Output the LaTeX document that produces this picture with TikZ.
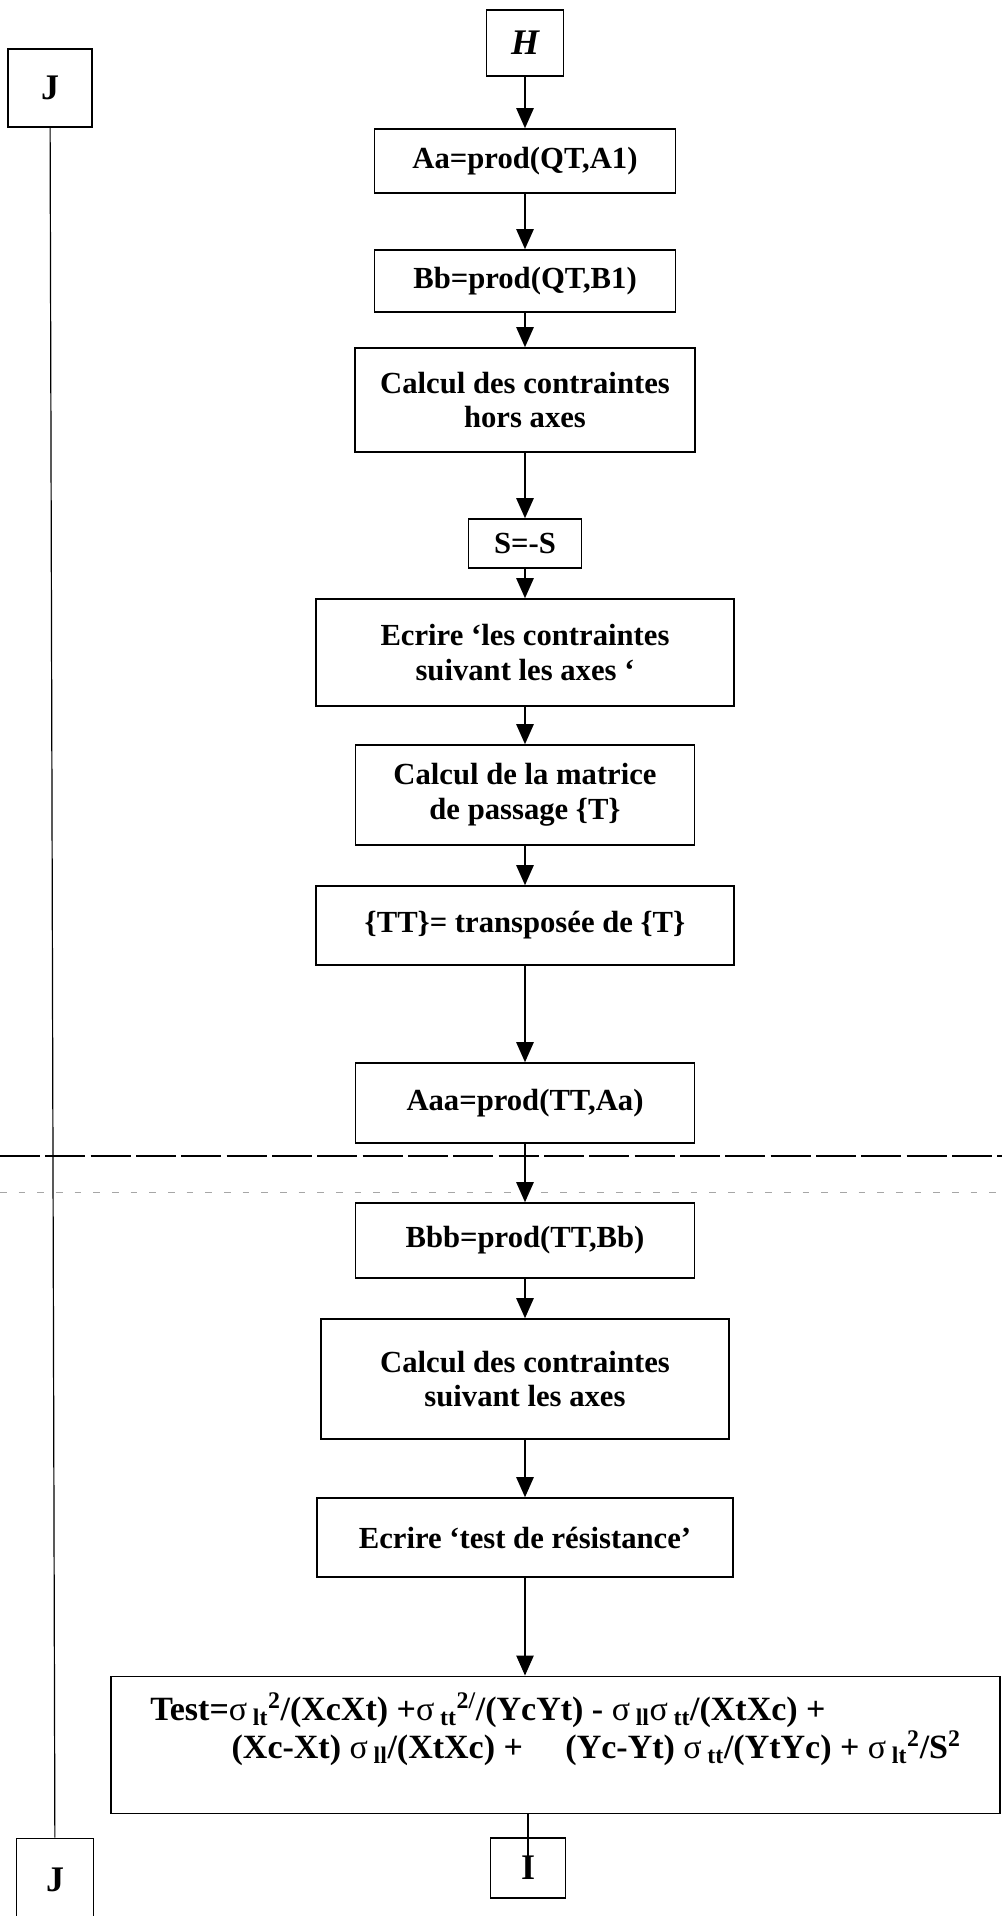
\documentclass[tikz,border=0pt]{standalone}
\usepackage{fontspec}
\setmainfont{Liberation Serif}
\usetikzlibrary{positioning,arrows.meta}
\tikzstyle{box}   = [rectangle, draw=black, line width=1.2pt, align=center, inner sep=2pt, font=\bfseries\fontsize{23}{26}\selectfont]
\tikzstyle{label} = [box, font=\bfseries\fontsize{27}{30}\selectfont]
\tikzstyle{arrow} = [line width=1.1pt, -{Triangle[length=15pt,width=13pt]}]
\newcommand{\sgm}[1]{{\mdseries σ}\,\textsubscript{#1}}

\begin{document}
\begin{tikzpicture}[x=0.75pt, y=-0.75pt]
    \useasboundingbox (0,0) rectangle (1002,1916);
    % page break of the scan
    \draw[line width=0.8pt, dash pattern=on 30pt off 4pt] (0,1156) -- (1002,1156);
    \draw[gray!70, line width=0.6pt, dash pattern=on 5pt off 9pt] (0,1192) -- (1002,1192);

    % connector J
    \node[label, minimum width=63pt, minimum height=58.5pt] (jtop) at (50,88) {J};
    \node[label, minimum width=57.75pt, minimum height=62.25pt] (jbot) at (55,1880) {J};
    \draw[line width=0.9pt] (jtop) -- (jbot);

    % main column
    \node[label, minimum width=57.75pt, minimum height=49.5pt] (h) at (525,43) {\itshape H};
    \node[box, minimum width=225.75pt, minimum height=48pt] (aa) at (525,161) {Aa=prod(QT,A1)};
    \node[box, minimum width=225.75pt, minimum height=46.5pt] (bb) at (525,281) {Bb=prod(QT,B1)};
    \node[box, minimum width=255pt, minimum height=78pt] (hors) at (525,400) {Calcul des contraintes\\hors axes};
    \node[box, minimum width=84.75pt, minimum height=36.75pt] (ss) at (525,543.5) {S=-S};
    \node[box, minimum width=313.5pt, minimum height=80.25pt] (ecrax) at (525,652.5) {Ecrire ‘les contraintes\\suivant les axes ‘};
    \node[box, minimum width=254.25pt, minimum height=75pt] (mat) at (525,795) {Calcul de la matrice\\de passage \{T\}};
    \node[box, minimum width=313.5pt, minimum height=59.25pt] (tt) at (525,925.5) {\{TT\}= transposée de \{T\}};
    \node[box, minimum width=254.25pt, minimum height=60pt] (aaa) at (525,1103) {Aaa=prod(TT,Aa)};
    \node[box, minimum width=254.25pt, minimum height=56.25pt] (bbb) at (525,1240.5) {Bbb=prod(TT,Bb)};
    \node[box, minimum width=306pt, minimum height=90pt] (suiv) at (525,1379) {Calcul des contraintes\\suivant les axes};
    \node[box, minimum width=312pt, minimum height=59.25pt] (ecrtest) at (525,1537.5) {Ecrire ‘test de résistance’};
    \node[box, minimum width=667pt, minimum height=103pt, align=left, text depth=29pt, font=\bfseries\fontsize{25.5}{28.5}\selectfont] (test) at (555.5,1745)
        {Test=\sgm{lt}\textsuperscript{2}/(XcXt) +\sgm{tt}\textsuperscript{2/}/(YcYt) - \sgm{ll}\sgm{tt}/(XtXc) +\\
         \hspace*{61pt}(Xc-Xt) \sgm{ll}/(XtXc) + \quad (Yc-Yt) \sgm{tt}/(YtYc) + \sgm{lt}\textsuperscript{2}/S\textsuperscript{2}};
    \node[label, minimum width=56.25pt, minimum height=45pt] (i) at (528,1868) {I};

    \draw[arrow] (h) -- (aa);
    \draw[arrow] (aa) -- (bb);
    \draw[arrow] (bb) -- (hors);
    \draw[arrow] (hors) -- (ss);
    \draw[arrow] (ss) -- (ecrax);
    \draw[arrow] (ecrax) -- (mat);
    \draw[arrow] (mat) -- (tt);
    \draw[arrow] (tt) -- (aaa);
    \draw[arrow] (aaa) -- (bbb);
    \draw[arrow] (bbb) -- (suiv);
    \draw[arrow] (suiv) -- (ecrtest);
    \draw[arrow] (ecrtest) -- (ecrtest.south |- test.north);
    \draw[line width=1.1pt] (test.south -| i) -- (i.center);
\end{tikzpicture}
\end{document}
